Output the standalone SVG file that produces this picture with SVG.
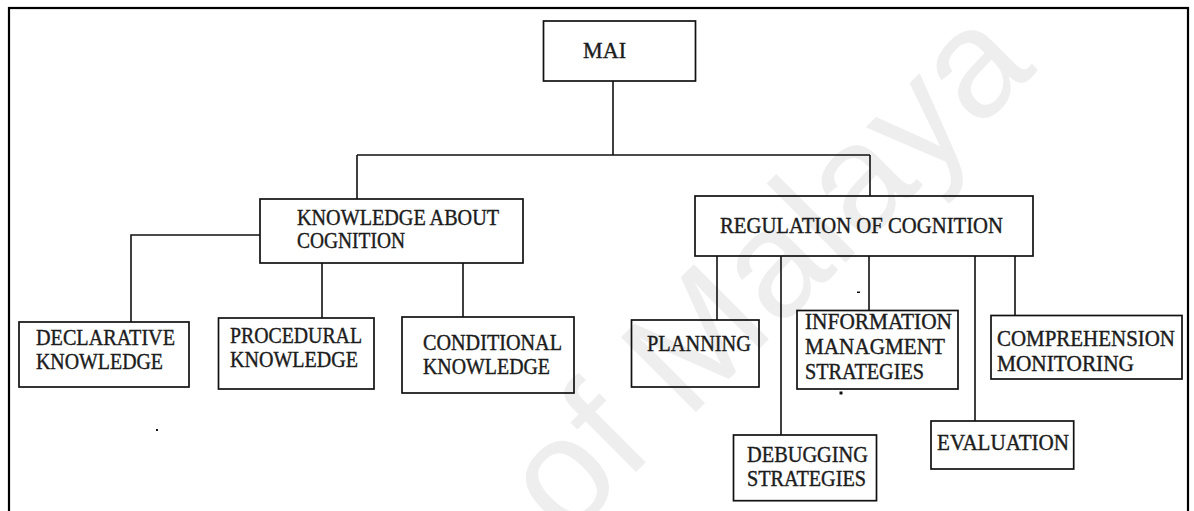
<svg xmlns="http://www.w3.org/2000/svg" width="1194" height="511" viewBox="0 0 1194 511">
  <style>
    .box { fill: none; stroke: #111; stroke-width: 1.7; }
    .wire { fill: none; stroke: #111; stroke-width: 1.6; }
    .mark { fill: #111; }
  </style>
  <rect width="1194" height="511" fill="#fff"/>

  <!-- faint background lettering -->
  <text font-family="Liberation Sans, Arial, sans-serif" font-size="154" fill="#eeeeee" transform="translate(566 542) rotate(-45)">of Malaya</text>

  <!-- page frame -->
  <rect x="9" y="8" width="1179" height="520" fill="none" stroke="#000" stroke-width="2.2"/>

  <g id="connectors">
    <path class="wire" d="M613 81V155M357 155H870M357 155V199M870 155V196"/>
    <path class="wire" d="M260 235H131V322M322 263V318M463 263V317"/>
    <path class="wire" d="M717 256V320M781 256V435M869 256V310M975 256V421M1015 256V316"/>
  </g>

  <g font-family="Liberation Serif, Times New Roman, DejaVu Serif, serif" font-size="22.5" fill="#1c1c1c" stroke="#1c1c1c" stroke-width="0.4">
  <g id="mai">
    <rect class="box" x="543.5" y="21" width="152" height="60"/>
    <text x="583" y="58" textLength="43" lengthAdjust="spacingAndGlyphs">MAI</text>
  </g>

  <g id="knowledge-about-cognition">
    <rect class="box" x="260" y="199" width="263" height="64"/>
    <text x="297" y="225" textLength="202" lengthAdjust="spacingAndGlyphs">KNOWLEDGE ABOUT</text>
    <text x="297" y="248" textLength="108" lengthAdjust="spacingAndGlyphs">COGNITION</text>
  </g>

  <g id="regulation-of-cognition">
    <rect class="box" x="695" y="196" width="338" height="60"/>
    <text x="720" y="233" textLength="283" lengthAdjust="spacingAndGlyphs">REGULATION OF COGNITION</text>
  </g>

  <g id="declarative">
    <rect class="box" x="19" y="322" width="170" height="65"/>
    <text x="36" y="345" textLength="139" lengthAdjust="spacingAndGlyphs">DECLARATIVE</text>
    <text x="36" y="369" textLength="127" lengthAdjust="spacingAndGlyphs">KNOWLEDGE</text>
  </g>

  <g id="procedural">
    <rect class="box" x="218.5" y="318" width="155.5" height="71"/>
    <text x="230" y="343" textLength="132" lengthAdjust="spacingAndGlyphs">PROCEDURAL</text>
    <text x="230" y="367" textLength="128" lengthAdjust="spacingAndGlyphs">KNOWLEDGE</text>
  </g>

  <g id="conditional">
    <rect class="box" x="402" y="317" width="172" height="76"/>
    <text x="423" y="350" textLength="139" lengthAdjust="spacingAndGlyphs">CONDITIONAL</text>
    <text x="423" y="374" textLength="127" lengthAdjust="spacingAndGlyphs">KNOWLEDGE</text>
  </g>

  <g id="planning">
    <rect class="box" x="631.5" y="320" width="127.5" height="67"/>
    <text x="647" y="351" textLength="104" lengthAdjust="spacingAndGlyphs">PLANNING</text>
  </g>

  <g id="information-management">
    <rect class="box" x="797" y="310.5" width="161" height="78.5"/>
    <text x="805" y="329" textLength="147" lengthAdjust="spacingAndGlyphs">INFORMATION</text>
    <text x="805" y="354" textLength="140" lengthAdjust="spacingAndGlyphs">MANAGMENT</text>
    <text x="805" y="379" textLength="119" lengthAdjust="spacingAndGlyphs">STRATEGIES</text>
  </g>

  <g id="comprehension-monitoring">
    <rect class="box" x="991" y="315.5" width="191" height="63.5"/>
    <text x="997" y="346" textLength="178" lengthAdjust="spacingAndGlyphs">COMPREHENSION</text>
    <text x="997" y="371" textLength="137" lengthAdjust="spacingAndGlyphs">MONITORING</text>
  </g>

  <g id="debugging">
    <rect class="box" x="733.5" y="435" width="143" height="65.7"/>
    <text x="747" y="462" textLength="121" lengthAdjust="spacingAndGlyphs">DEBUGGING</text>
    <text x="747" y="485.5" textLength="119" lengthAdjust="spacingAndGlyphs">STRATEGIES</text>
  </g>

  <g id="evaluation">
    <rect class="box" x="931" y="421" width="142.7" height="48"/>
    <text x="937" y="450" textLength="132" lengthAdjust="spacingAndGlyphs">EVALUATION</text>
  </g>
  </g>

  <!-- stray marks -->
  <rect class="mark" x="156" y="429" width="2" height="2"/>
  <rect class="mark" x="857" y="291.5" width="3" height="1.5"/>
  <rect class="mark" x="839.5" y="391.5" width="3" height="3"/>
</svg>
